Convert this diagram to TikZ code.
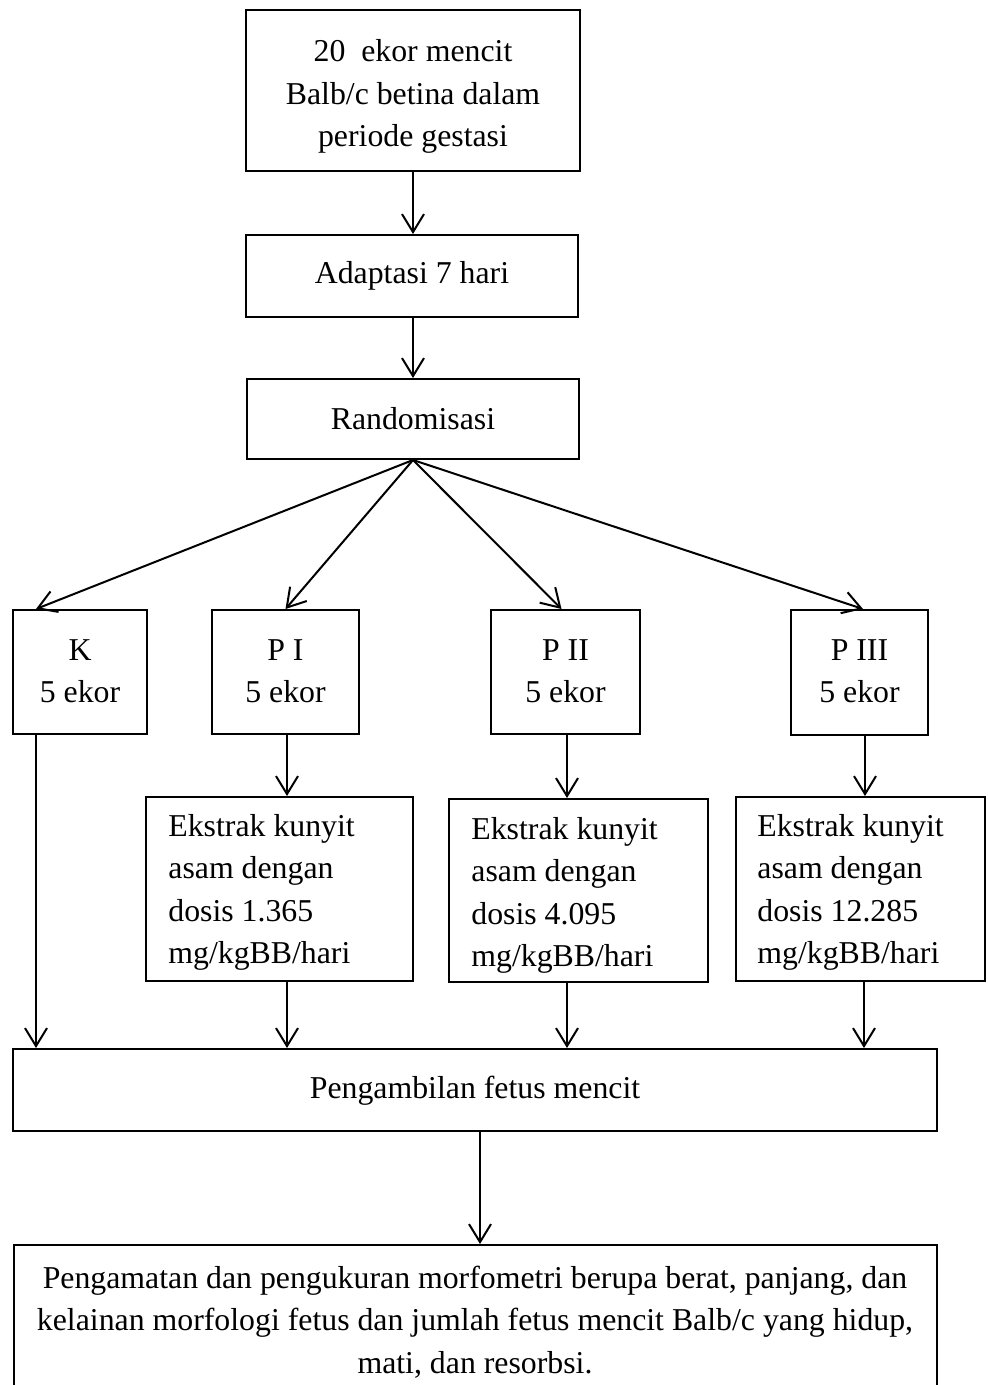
\documentclass[tikz,border=0pt]{standalone}
\usepackage{fontspec}
\setmainfont{Liberation Serif}
\usetikzlibrary{arrows.meta,calc}
\begin{document}
\begin{tikzpicture}[x=0.5pt,y=-0.5pt,
  font=\fontsize{15.9pt}{21.25pt}\selectfont,
  box/.style={draw, line width=1pt, inner sep=0pt, rectangle},
  txt/.style={inner sep=0pt},
  arr/.style={line width=1pt, -{Straight Barb[length=9pt,width=11pt,line width=1pt]}}]
\useasboundingbox (0,0) rectangle (988,1385);

% boxes
\node[box, minimum width=167pt, minimum height=80.5pt] (top) at (413,90.5) {};
\node[box, minimum width=166pt, minimum height=41pt] (adap) at (412,276) {};
\node[box, minimum width=166pt, minimum height=40pt] (rand) at (413,419) {};
\node[box, minimum width=67pt, minimum height=62pt] (K) at (80,672) {};
\node[box, minimum width=73.5pt, minimum height=62pt] (PI) at (285.5,672) {};
\node[box, minimum width=74.5pt, minimum height=62pt] (PII) at (565.5,672) {};
\node[box, minimum width=68.5pt, minimum height=62.5pt] (PIII) at (859.5,672.5) {};
\node[box, minimum width=133.5pt, minimum height=92pt] (E1) at (279.5,889) {};
\node[box, minimum width=129.5pt, minimum height=91.5pt] (E2) at (578.5,890.5) {};
\node[box, minimum width=124.5pt, minimum height=92pt] (E3) at (860.5,889) {};
\node[box, minimum width=462pt, minimum height=41pt] (peng) at (475,1090) {};
\node[box, minimum width=461.5pt, minimum height=100pt] (obs) at (475.5,1345) {};

% texts
\node[txt, anchor=base] (ttop) at (413,62) {\begin{tabular}[t]{@{}c@{}}20\ \ ekor mencit\\Balb/c betina dalam\\periode gestasi\end{tabular}};
\node[txt, anchor=base] (tadap) at (412,284) {Adaptasi 7 hari};
\node[txt, anchor=base] (trand) at (413,429) {Randomisasi};
\node[txt, anchor=base] (tK) at (80,660) {\begin{tabular}[t]{@{}c@{}}K\\5 ekor\end{tabular}};
\node[txt, anchor=base] (tPI) at (285.5,660) {\begin{tabular}[t]{@{}c@{}}P I\\5 ekor\end{tabular}};
\node[txt, anchor=base] (tPII) at (565.5,660) {\begin{tabular}[t]{@{}c@{}}P II\\5 ekor\end{tabular}};
\node[txt, anchor=base] (tPIII) at (859.5,660) {\begin{tabular}[t]{@{}c@{}}P III\\5 ekor\end{tabular}};
\node[txt, anchor=base west] (tE1) at (168,836) {\begin{tabular}[t]{@{}l@{}}Ekstrak kunyit\\asam dengan\\dosis 1.365\\mg/kgBB/hari\end{tabular}};
\node[txt, anchor=base west] (tE2) at (471,839) {\begin{tabular}[t]{@{}l@{}}Ekstrak kunyit\\asam dengan\\dosis 4.095\\mg/kgBB/hari\end{tabular}};
\node[txt, anchor=base west] (tE3) at (757,836) {\begin{tabular}[t]{@{}l@{}}Ekstrak kunyit\\asam dengan\\dosis 12.285\\mg/kgBB/hari\end{tabular}};
\node[txt, anchor=base] (tpeng) at (475,1098) {Pengambilan fetus mencit};
\node[txt, anchor=base] (tobs) at (475,1288) {\begin{tabular}[t]{@{}c@{}}Pengamatan dan pengukuran morfometri berupa berat, panjang, dan\\kelainan morfologi fetus dan jumlah fetus mencit Balb/c yang hidup,\\mati, dan resorbsi.\end{tabular}};

% column coordinates
\coordinate (cK) at (36,0);
\coordinate (cI) at (287,0);
\coordinate (cII) at (567,0);
\coordinate (cIII) at (865,0);
\coordinate (cE3) at (864,0);
\coordinate (cP) at (480,0);
\coordinate (cT) at (413,0);

% connectors
\draw[arr] (cT |- top.south) -- (cT |- adap.north);
\draw[arr] (cT |- adap.south) -- (cT |- rand.north);
\draw[arr] (rand.south) -- ([xshift=12pt]K.north west);
\draw[arr] (rand.south) -- (PI.north);
\draw[arr] (rand.south) -- ([xshift=-2pt]PII.north);
\draw[arr] (rand.south) -- ([xshift=1.75pt]PIII.north);
\draw[arr] (cI |- PI.south) -- (cI |- E1.north);
\draw[arr] (cII |- PII.south) -- (cII |- E2.north);
\draw[arr] (cIII |- PIII.south) -- (cIII |- E3.north);
\draw[arr] (cK |- K.south) -- (cK |- peng.north);
\draw[arr] (cI |- E1.south) -- (cI |- peng.north);
\draw[arr] (cII |- E2.south) -- (cII |- peng.north);
\draw[arr] (cE3 |- E3.south) -- (cE3 |- peng.north);
\draw[arr] (cP |- peng.south) -- (cP |- obs.north);
\end{tikzpicture}
\end{document}
